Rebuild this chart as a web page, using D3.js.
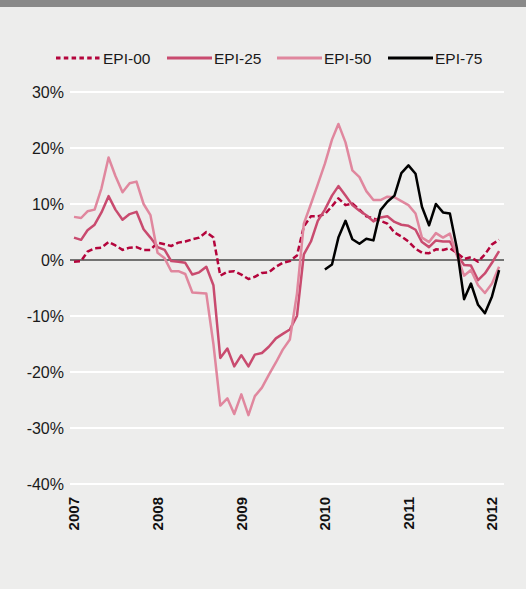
<!DOCTYPE html>
<html>
<head>
<meta charset="utf-8">
<script src="https://cdn.jsdelivr.net/npm/d3@7"></script>
<style>
  html, body { margin: 0; padding: 0; background: #ededec; }
  svg { display: block; }
  text { font-family: "Liberation Sans", Arial, Helvetica, sans-serif; }
</style>
</head>
<body>
<svg id="chart" width="526" height="589"></svg>
<script>
// ---- data (monthly, Jan 2007 – Feb 2012) ----
const seriesNames = ["EPI-00", "EPI-25", "EPI-50", "EPI-75"];
const yTicks = [30, 20, 10, 0, -10, -20, -30, -40];
const yearTicks = [2007, 2008, 2009, 2010, 2011, 2012];

const epi00 = [-0.3,-0.2,1.5,2.1,2.2,3.2,2.6,1.8,2.2,2.3,1.8,1.8,
  3.1,2.8,2.5,3.1,3.3,3.7,4.0,5.0,4.0,-2.8,-2.1,-2.0,
  -2.6,-3.4,-3.0,-2.3,-2.2,-1.2,-0.5,-0.2,0.8,6.0,7.8,7.8,
  8.2,9.6,11.0,9.8,10.1,9.0,7.8,7.4,7.0,6.5,4.9,4.2,
  3.3,2.0,1.3,1.2,1.9,1.8,2.1,1.3,0.2,0.5,-0.3,1.0,
  2.8,3.6];
const epi25 = [4.0,3.6,5.3,6.3,8.5,11.4,9.0,7.2,8.2,8.6,5.5,4.0,
  2.3,1.8,-0.2,-0.3,-0.5,-2.6,-2.2,-1.2,-4.5,-17.5,-15.8,-19.0,
  -17.0,-19.0,-16.9,-16.6,-15.5,-14.0,-13.2,-12.4,-10.0,1.0,3.3,7.0,
  9.0,11.5,13.2,11.5,9.8,8.8,8.0,6.9,7.6,7.8,6.8,6.3,
  6.1,5.4,3.2,2.3,3.5,3.3,3.3,1.0,-0.9,-1.0,-3.6,-2.4,
  -0.5,1.6];
const epi50 = [7.7,7.5,8.7,9.0,12.8,18.3,15.0,12.1,13.7,14.0,10.0,8.0,
  1.3,0.3,-2.0,-2.0,-2.5,-5.8,-5.9,-6.0,-15.0,-26.0,-24.7,-27.5,
  -24.0,-27.7,-24.3,-22.8,-20.5,-18.3,-16.0,-14.2,-6.0,6.5,10.0,13.5,
  17.2,21.5,24.3,21.0,16.0,14.8,12.3,10.7,10.7,11.3,11.2,10.5,
  9.8,8.3,4.0,3.2,4.8,4.0,4.7,0.8,-2.8,-1.8,-4.5,-5.9,
  -4.2,-1.2];
// EPI-75 starts Jan 2010
const epi75 = [null,null,null,null,null,null,null,null,null,null,null,null,
  null,null,null,null,null,null,null,null,null,null,null,null,
  null,null,null,null,null,null,null,null,null,null,null,null,
  -1.7,-0.8,4.0,7.0,3.7,2.9,3.8,3.5,8.9,10.4,11.5,15.5,
  16.9,15.4,9.5,6.2,10.0,8.5,8.3,2.0,-7.0,-4.2,-8.0,-9.5,
  -6.5,-1.8];

const months = d3.timeMonth.range(new Date(2007, 0, 1), new Date(2012, 2, 1));
const seriesValues = [epi00, epi25, epi50, epi75];
const colors = ["#b4053c", "#c94b6f", "#e0879e", "#000000"];
const dashes = ["6,3", null, null, null];

const svg = d3.select("#chart");

// top bar
svg.append("rect").attr("x", 0).attr("y", 0).attr("width", 526).attr("height", 7).attr("fill", "#898989");

const x = d3.scaleTime()
  .domain([new Date(2007, 0, 1), new Date(2012, 0, 1)])
  .range([74, 492]);
const y = d3.scaleLinear().domain([-40, 30]).range([484, 92]);

const gridLeft = 70, gridRight = 504;

// gridlines
svg.append("g").selectAll("line")
  .data(yTicks.filter(d => d !== 0))
  .join("line")
  .attr("x1", gridLeft).attr("x2", gridRight)
  .attr("y1", d => y(d)).attr("y2", d => y(d))
  .attr("stroke", "#ffffff").attr("stroke-width", 2);

// y labels
svg.append("g").selectAll("text")
  .data(yTicks)
  .join("text")
  .attr("x", 64).attr("y", d => y(d))
  .attr("dy", "0.36em")
  .attr("text-anchor", "end")
  .attr("font-size", 16)
  .attr("fill", "#1a1a1a")
  .text(d => d + "%");

// x labels
svg.append("g").selectAll("text")
  .data(yearTicks)
  .join("text")
  .attr("transform", d => `translate(${x(new Date(d, 0, 1))},497) rotate(-90)`)
  .attr("dy", "0.36em")
  .attr("text-anchor", "end")
  .attr("font-size", 15)
  .attr("font-weight", "bold")
  .attr("fill", "#111")
  .text(d => d);

// zero line
svg.append("line")
  .attr("x1", gridLeft).attr("x2", gridRight)
  .attr("y1", y(0)).attr("y2", y(0))
  .attr("stroke", "#4a4a4a").attr("stroke-width", 1.5);

// lines
const line = d3.line()
  .defined(d => d.v !== null)
  .x(d => x(d.t))
  .y(d => y(d.v));

seriesValues.forEach((vals, i) => {
  const pts = vals.map((v, k) => ({ t: months[k], v: v }));
  svg.append("path")
    .datum(pts)
    .attr("d", line)
    .attr("fill", "none")
    .attr("stroke", colors[i])
    .attr("stroke-width", 2.5)
    .attr("stroke-linejoin", "round")
    .attr("stroke-dasharray", dashes[i]);
});

// legend
const legendX = [56, 167, 277, 388];
const lg = svg.append("g");
seriesNames.forEach((name, i) => {
  lg.append("line")
    .attr("x1", legendX[i]).attr("x2", legendX[i] + 45)
    .attr("y1", 58).attr("y2", 58)
    .attr("stroke", colors[i]).attr("stroke-width", 3)
    .attr("stroke-dasharray", dashes[i] ? "4.5,3.3" : null);
  lg.append("text")
    .attr("x", legendX[i] + 47).attr("y", 58)
    .attr("dy", "0.36em")
    .attr("font-size", 15.5)
    .attr("fill", "#1a1a1a")
    .text(name);
});
</script>
</body>
</html>
